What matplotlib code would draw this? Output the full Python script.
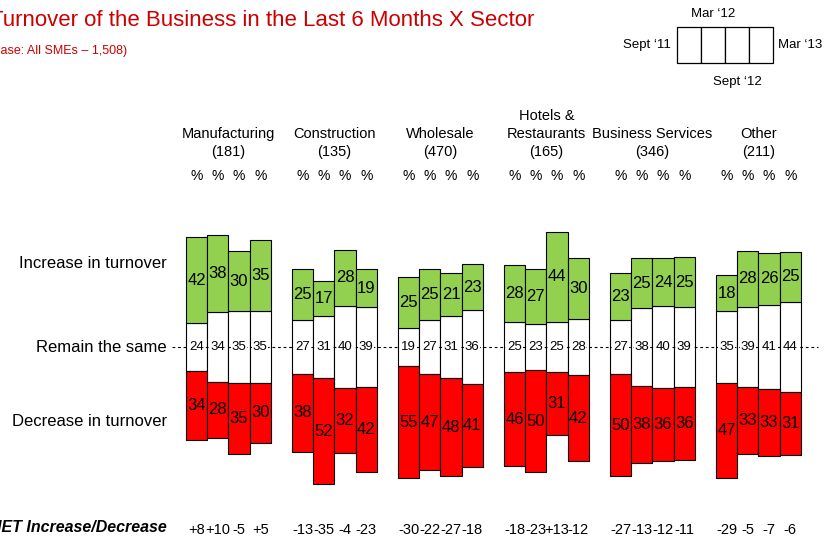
import numpy as np
import matplotlib.pyplot as plt

plt.rcParams['font.family'] = ['Liberation Sans', 'DejaVu Sans']

# data
sectors = ['Manufacturing\n(181)', 'Construction\n(135)', 'Wholesale\n(470)',
           'Hotels &\nRestaurants\n(165)', 'Business Services\n(346)', 'Other\n(211)']
waves = ['Sept \u201811', 'Mar \u201812', 'Sept \u201812', 'Mar \u201813']

increase = [[42, 38, 30, 35], [25, 17, 28, 19], [25, 25, 21, 23],
            [28, 27, 44, 30], [23, 25, 24, 25], [18, 28, 26, 25]]
same = [[24, 34, 35, 35], [27, 31, 40, 39], [19, 27, 31, 36],
        [25, 23, 25, 28], [27, 38, 40, 39], [35, 39, 41, 44]]
decrease = [[34, 28, 35, 30], [38, 52, 32, 42], [55, 47, 48, 41],
            [46, 50, 31, 42], [50, 38, 36, 36], [47, 33, 33, 31]]
net = [[8, 10, -5, 5], [-13, -35, -4, -23], [-30, -22, -27, -18],
       [-18, -23, 13, -12], [-27, -13, -12, -11], [-29, -5, -7, -6]]

row_labels = ['Increase in turnover', 'Remain the same', 'Decrease in turnover']

GREEN = '#92D050'
RED = '#FF0000'
TITLE_RED = '#CC0000'

W, H = 827, 540
fig = plt.figure(figsize=(W / 100, H / 100), dpi=100)


def fx(px):
    return px / W


def fy(py):
    return 1 - py / H


# main axes covers the whole figure; x in bar slots, y in percent
ax = fig.add_axes([0, 0, 1, 1])
unit = 21.2          # px per bar slot
left_px = 186        # left edge of first bar
base_px = 347        # "remain the same" line
scale = 2.03         # px per percentage point
ax.set_xlim(-0.5 - left_px / unit, -0.5 + (W - left_px) / unit)
ax.set_ylim(-(H - base_px) / scale, base_px / scale)
ax.axis('off')

inc = np.array(increase, float)
sam = np.array(same, float)
dec = np.array(decrease, float)
ng, nw = inc.shape
xs = np.array([[g * 5 + i for i in range(nw)] for g in range(ng)], float)

kw = dict(width=1.0, edgecolor='black', linewidth=0.8, zorder=2)
ax.bar(xs.ravel(), sam.ravel(), bottom=-sam.ravel() / 2, color='white', **kw)
ax.bar(xs.ravel(), inc.ravel(), bottom=sam.ravel() / 2, color=GREEN, **kw)
ax.bar(xs.ravel(), dec.ravel(), bottom=-sam.ravel() / 2 - dec.ravel(), color=RED, **kw)

# dashed "remain the same" line
ax.plot([xs.min() - 0.5 - 14 / unit, xs.max() + 0.5 + 17 / unit], [0, 0],
        color='black', lw=0.8, ls=(0, (2.5, 2.5)), zorder=3)

for g in range(ng):
    for i in range(nw):
        x = xs[g, i]
        ax.text(x, sam[g, i] / 2 + inc[g, i] / 2, f'{increase[g][i]}',
                ha='center', va='center', fontsize=12, zorder=4)
        ax.text(x, -sam[g, i] / 2 - dec[g, i] / 2, f'{decrease[g][i]}',
                ha='center', va='center', fontsize=12, zorder=4)
        ax.text(x, 0, f'{same[g][i]}', ha='center', va='center', fontsize=9.5,
                zorder=5, bbox=dict(boxstyle='square,pad=0.06', fc='white', ec='none'))
        ax.text(x, fy(176), '%', transform=ax.get_xaxis_transform(),
                ha='center', va='center', fontsize=10)
        ax.text(x, fy(530), f'{net[g][i]:+d}', transform=ax.get_xaxis_transform(),
                ha='center', va='center', fontsize=10.5)
    ax.text(xs[g].mean(), fy(159), sectors[g], transform=ax.get_xaxis_transform(),
            ha='center', va='bottom', fontsize=10.5, linespacing=1.35,
            multialignment='center')

# row labels
for lab, py in zip(row_labels, [264, 347, 422]):
    fig.text(fx(167), fy(py), lab, ha='right', va='center', fontsize=12)
fig.text(fx(167), fy(528), 'NET Increase/Decrease', ha='right', va='center',
         fontsize=11.5, fontweight='bold', fontstyle='italic')

# title
fig.text(fx(-10), fy(20), 'Turnover of the Business in the Last 6 Months X Sector',
         ha='left', va='center', fontsize=16, color=TITLE_RED)
fig.text(fx(-12), fy(51), '(Base: All SMEs \u2013 1,508)', ha='left', va='center',
         fontsize=9, color=TITLE_RED)

# wave key
lax = fig.add_axes([fx(677), fy(63), 96 / W, 36 / H])
lax.bar(np.arange(len(waves)), 1, width=1, bottom=0, color='white',
        edgecolor='black', linewidth=0.9, clip_on=False)
lax.set_xlim(-0.5, len(waves) - 0.5)
lax.set_ylim(0, 1)
lax.axis('off')
fig.text(fx(671), fy(45), waves[0], ha='right', va='center', fontsize=9.5)
fig.text(fx(713), fy(14), waves[1], ha='center', va='center', fontsize=9.5)
fig.text(fx(737), fy(82), waves[2], ha='center', va='center', fontsize=9.5)
fig.text(fx(778), fy(45), waves[3], ha='left', va='center', fontsize=9.5)

fig.savefig('out.png', dpi=100)
